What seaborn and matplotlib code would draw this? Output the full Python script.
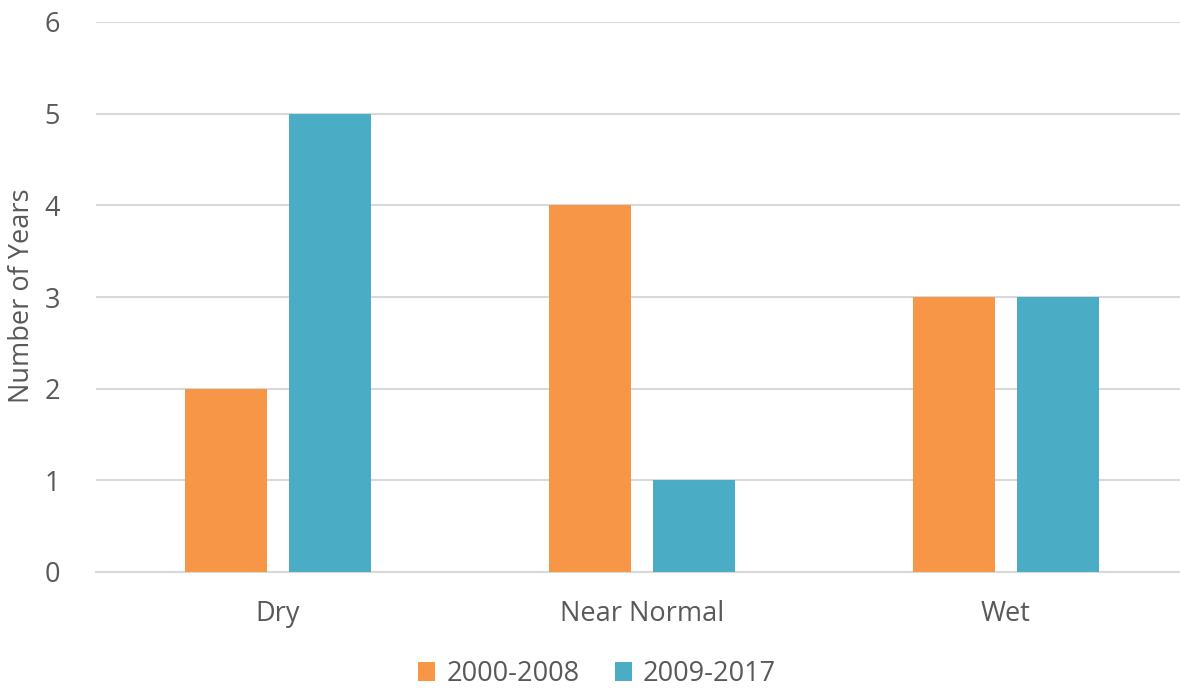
import matplotlib
matplotlib.use("Agg")
import matplotlib.pyplot as plt
import seaborn as sns
import pandas as pd
from matplotlib.patches import Patch

categories = ["Dry", "Near Normal", "Wet"]
period_a = [2, 4, 3]
period_b = [5, 1, 3]
series_names = ["2000-2008", "2009-2017"]
y_ticks = [0, 1, 2, 3, 4, 5, 6]
colors = ["#F79646", "#4BACC6"]

df = pd.DataFrame({
    "Category": categories * 2,
    "Years": period_a + period_b,
    "Period": [series_names[0]] * 3 + [series_names[1]] * 3,
})

sns.set_theme(style="white")
plt.rcParams["font.family"] = ["Open Sans", "DejaVu Sans"]
text_color = "#595959"
grid_color = "#D9D9D9"
fs = 19.5

fig = plt.figure(figsize=(11.8, 6.88), dpi=100)
ax = fig.add_axes([96 / 1180, (688 - 572) / 688, (1188 - 96) / 1180, 550 / 688])

sns.barplot(data=df, x="Category", y="Years", hue="Period",
            palette=colors, width=0.572, gap=0.22, ax=ax, linewidth=0,
            legend=False, saturation=1, errorbar=None, zorder=3)

ax.set_ylim(0, 6)
ax.set_xlim(-0.5, 2.5)
ax.set_yticks(y_ticks)
ax.set_yticklabels([str(t) for t in y_ticks])
ax.yaxis.grid(True, color=grid_color, linewidth=1.5, zorder=0)
ax.set_axisbelow(True)
for side in ["top", "right", "left"]:
    ax.spines[side].set_visible(False)
ax.spines["bottom"].set_color(grid_color)
ax.spines["bottom"].set_linewidth(1.5)

ax.tick_params(axis="y", length=0, pad=26, labelsize=fs, labelcolor=text_color)
ax.tick_params(axis="x", length=0, pad=20, labelsize=fs, labelcolor=text_color)
ax.set_xlabel("")
ax.set_ylabel("")
fig.text(22 / 1180, 1 - 296 / 688, "Number of Years", rotation=90,
         ha="center", va="center", fontsize=fs, color=text_color)

handles = [Patch(facecolor=c, edgecolor="none") for c in colors]
fig.legend(handles, series_names, loc="center", bbox_to_anchor=(597 / 1180, 1 - 674 / 688),
           ncol=2, frameon=False, fontsize=fs, labelcolor=text_color,
           handlelength=0.65, handleheight=0.65, handletextpad=0.4, columnspacing=1.3)

fig.savefig("out.png", dpi=100)
